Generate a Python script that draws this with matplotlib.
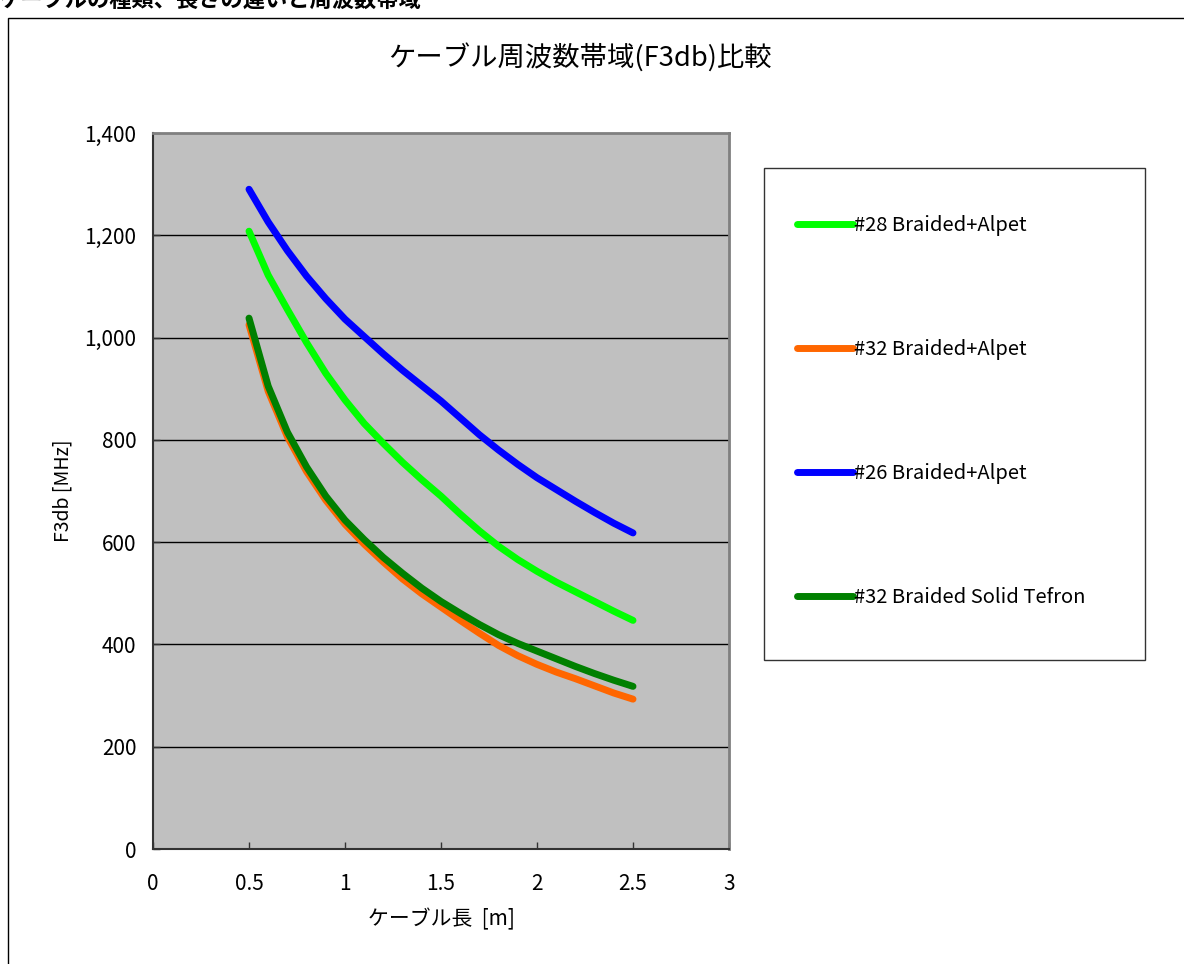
import matplotlib
matplotlib.use("Agg")
import matplotlib.pyplot as plt
from matplotlib.patches import Rectangle
from matplotlib.ticker import FuncFormatter, MultipleLocator

plt.rcParams['font.family'] = ['Noto Sans CJK JP', 'DejaVu Sans']

# ---- data ----
length_m = [0.5, 0.6, 0.7, 0.8, 0.9, 1.0, 1.1, 1.2, 1.3, 1.4, 1.5,
            1.6, 1.7, 1.8, 1.9, 2.0, 2.1, 2.2, 2.3, 2.4, 2.5]
awg28_alpet = [1208, 1122, 1055, 990, 930, 878, 832, 793, 756, 722, 690,
               655, 622, 592, 566, 543, 522, 503, 484, 465, 447]
awg32_alpet = [1025, 895, 806, 738, 682, 635, 596, 561, 528, 499, 473,
               447, 422, 398, 378, 361, 346, 333, 319, 305, 293]
awg26_alpet = [1290, 1226, 1170, 1120, 1076, 1036, 1002, 968, 936, 906, 876,
               843, 810, 780, 752, 726, 703, 680, 658, 637, 618]
awg32_tefron = [1038, 905, 815, 747, 690, 643, 605, 570, 539, 510, 484,
                461, 439, 419, 402, 387, 372, 357, 343, 330, 318]

series_labels = ["#28 Braided+Alpet", "#32 Braided+Alpet",
                 "#26 Braided+Alpet", "#32 Braided Solid Tefron"]
series_colors = ["#00FF00", "#FF6600", "#0000FF", "#008000"]

chart_title = "ケーブル周波数帯域(F3db)比較"
page_title = "ケーブルの種類、長さの違いと周波数帯域"
x_label = "ケーブル長  [m]"
y_label = "F3db [MHz]"

W, H = 1184, 964
fig = plt.figure(figsize=(W / 100, H / 100), dpi=100)
fig.patch.set_facecolor("white")

def fx(px):
    return px / W

def fy(py):
    return 1 - py / H

# outer chart-area border (extends past right/bottom edges)
fig.add_artist(Rectangle((fx(8), -0.05), 1.2, fy(18) + 0.05,
                         transform=fig.transFigure, fill=False, zorder=-2,
                         edgecolor="#000000", linewidth=1.0))

# page heading, cut off at the top as in the reference
fig.text(fx(-2), fy(0), page_title, fontsize=16, fontweight="bold",
         ha="left", va="center")

ax = fig.add_axes([fx(153), fy(849), fx(729) - fx(153), fy(133) - fy(849)])
ax.set_facecolor("#C0C0C0")

for ys, lab, col in zip([awg28_alpet, awg32_alpet, awg26_alpet, awg32_tefron],
                        series_labels, series_colors):
    ax.plot(length_m, ys, color=col, linewidth=5, solid_capstyle="round",
            solid_joinstyle="round", label=lab, zorder=3)

ax.set_xlim(0, 3)
ax.set_ylim(0, 1400)
ax.xaxis.set_major_locator(MultipleLocator(0.5))
ax.yaxis.set_major_locator(MultipleLocator(200))
ax.xaxis.set_major_formatter(FuncFormatter(lambda v, p: f"{v:g}"))
ax.yaxis.set_major_formatter(FuncFormatter(lambda v, p: f"{int(v):,}"))
ax.tick_params(axis="both", direction="in", length=5, width=1,
               labelsize=15, color="#333333")
ax.tick_params(axis="x", pad=17)
ax.tick_params(axis="y", pad=12)

for yv in range(200, 1400, 200):
    ax.axhline(yv, color="#000000", linewidth=1.0, zorder=1)

for side in ["left", "bottom"]:
    ax.spines[side].set_color("#333333")
    ax.spines[side].set_linewidth(1.5)
for side in ["top", "right"]:
    ax.spines[side].set_color("#808080")
    ax.spines[side].set_linewidth(2)

ax.set_xlabel(x_label, fontsize=15, labelpad=10)
ax.set_ylabel(y_label, fontsize=14, labelpad=8)

fig.text(fx(580), fy(57), chart_title, fontsize=19.7, ha="center", va="center")

# legend box
fig.add_artist(Rectangle((fx(764), fy(660)), fx(1145) - fx(764), fy(168) - fy(660),
                         transform=fig.transFigure, facecolor="white", zorder=-1,
                         edgecolor="#333333", linewidth=1.0))
leg = ax.legend(loc="upper left", bbox_to_anchor=(fx(797), fy(215)),
                bbox_transform=fig.transFigure, frameon=False,
                fontsize=14.5, handlelength=2.8, handletextpad=0.05,
                labelspacing=5.12, borderpad=0, borderaxespad=0)
for line in leg.get_lines():
    line.set_linewidth(5)
    line.set_solid_capstyle("round")

fig.savefig("out.png", dpi=100)
